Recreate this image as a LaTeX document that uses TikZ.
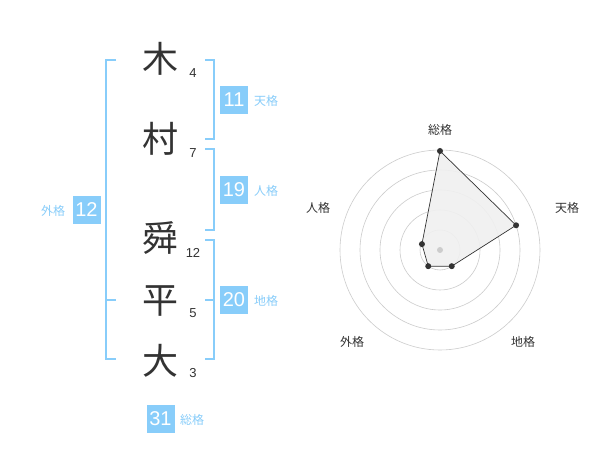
\documentclass[tikz,border=0pt]{standalone}
\usepackage{fontspec}
\setmainfont{Liberation Sans}
\newfontfamily\jp{Noto Sans CJK JP}
\definecolor{lb}{HTML}{88CDFA}
\definecolor{dk}{HTML}{333333}
\definecolor{gr}{HTML}{CCCCCC}
\definecolor{fl}{HTML}{F0F0F0}
\tikzset{
  kanji/.style={inner sep=0pt, text=dk, font=\jp\fontsize{36}{36}\selectfont},
  strokes/.style={inner sep=0pt, text=dk, font=\fontsize{13}{13}\selectfont},
  valbox/.style={fill=lb, text=white, minimum size=28pt, inner sep=0pt, font=\fontsize{20}{20}\selectfont},
  kaku/.style={inner sep=0pt, text=lb, font=\jp\fontsize{12}{12}\selectfont},
  brk/.style={draw=lb, line width=2pt},
  ring/.style={draw=gr, line width=0.6pt},
  axlab/.style={inner sep=0pt, text=dk, font=\jp\fontsize{12}{12}\selectfont},
  pt/.style={circle, fill=dk, inner sep=0pt, minimum size=6pt}
}
\begin{document}
\begin{tikzpicture}[x=1pt,y=-1pt]
\useasboundingbox (0,0) rectangle (600,470);
\fill[white] (0,0) rectangle (600,470);
% kanji
\node[kanji] (k1) at (160,59) {木};
\node[kanji] (k2) at (160,139) {村};
\node[kanji] (k3) at (160,238) {舜};
\node[kanji] (k4) at (160,301) {平};
\node[kanji] (k5) at (160,361) {大};
\node[strokes] (s1) at (193,73) {4};
\node[strokes] (s2) at (193,153) {7};
\node[strokes] (s3) at (193,253) {12};
\node[strokes] (s4) at (193,313) {5};
\node[strokes] (s5) at (193,373) {3};
% brackets
\coordinate (la) at (116,60); \coordinate (lb1) at (106,60);
\coordinate (lc) at (106,359); \coordinate (ld) at (116,359);
\coordinate (lm1) at (106,300); \coordinate (lm2) at (116,300);
\draw[brk] (la) -- (lb1) -- (lc) -- (ld);
\draw[brk] (lm1) -- (lm2);
\coordinate (t1) at (205,60); \coordinate (t2) at (214,60);
\coordinate (t3) at (214,139); \coordinate (t4) at (205,139);
\draw[brk] (t1) -- (t2) -- (t3) -- (t4);
\coordinate (j1) at (205,149); \coordinate (j2) at (214,149);
\coordinate (j3) at (214,230); \coordinate (j4) at (205,230);
\draw[brk] (j1) -- (j2) -- (j3) -- (j4);
\coordinate (c1) at (205,240); \coordinate (c2) at (214,240);
\coordinate (c3) at (214,359); \coordinate (c4) at (205,359);
\coordinate (cm1) at (214,300); \coordinate (cm2) at (205,300);
\draw[brk] (c1) -- (c2) -- (c3) -- (c4);
\draw[brk] (cm1) -- (cm2);
% boxes
\node[valbox] (b11) at (234,100) {11};
\node[kaku] (l11) at (266,101) {天格};
\node[valbox] (b19) at (234,190) {19};
\node[kaku] (l19) at (266,191) {人格};
\node[valbox] (b20) at (234,300) {20};
\node[kaku] (l20) at (266,301) {地格};
\node[valbox] (b12) at (86.5,210) {12};
\node[kaku] (l12) at (53,211) {外格};
\node[valbox] (b31) at (160.5,419) {31};
\node[kaku] (l31) at (192,420) {総格};
% radar
\begin{scope}[shift={(440,250)}, x=1pt, y=1pt]
  \foreach \r in {20,40,60,80,100} \draw[ring] (0,0) circle[radius=\r];
  \coordinate (p1) at (90:99);
  \coordinate (p2) at (18:80);
  \coordinate (p3) at (-54:20);
  \coordinate (p4) at (-126:20);
  \coordinate (p5) at (162:19);
  \fill[fl, fill opacity=0.9] (p1) -- (p2) -- (p3) -- (p4) -- (p5) -- cycle;
  \draw[dk, line width=0.7pt] (p1) -- (p2) -- (p3) -- (p4) -- (p5) -- cycle;
  \node[circle, fill=gr, inner sep=0pt, minimum size=6pt] (ctr) at (0,0) {};
  \foreach \p in {p1,p2,p3,p4,p5} \node[pt] at (\p) {};
\end{scope}
\node[axlab] (a1) at (440,130) {総格};
\node[axlab] (a2) at (567,208) {天格};
\node[axlab] (a3) at (318,208) {人格};
\node[axlab] (a4) at (352,342) {外格};
\node[axlab] (a5) at (523,342) {地格};
\end{tikzpicture}
\end{document}
